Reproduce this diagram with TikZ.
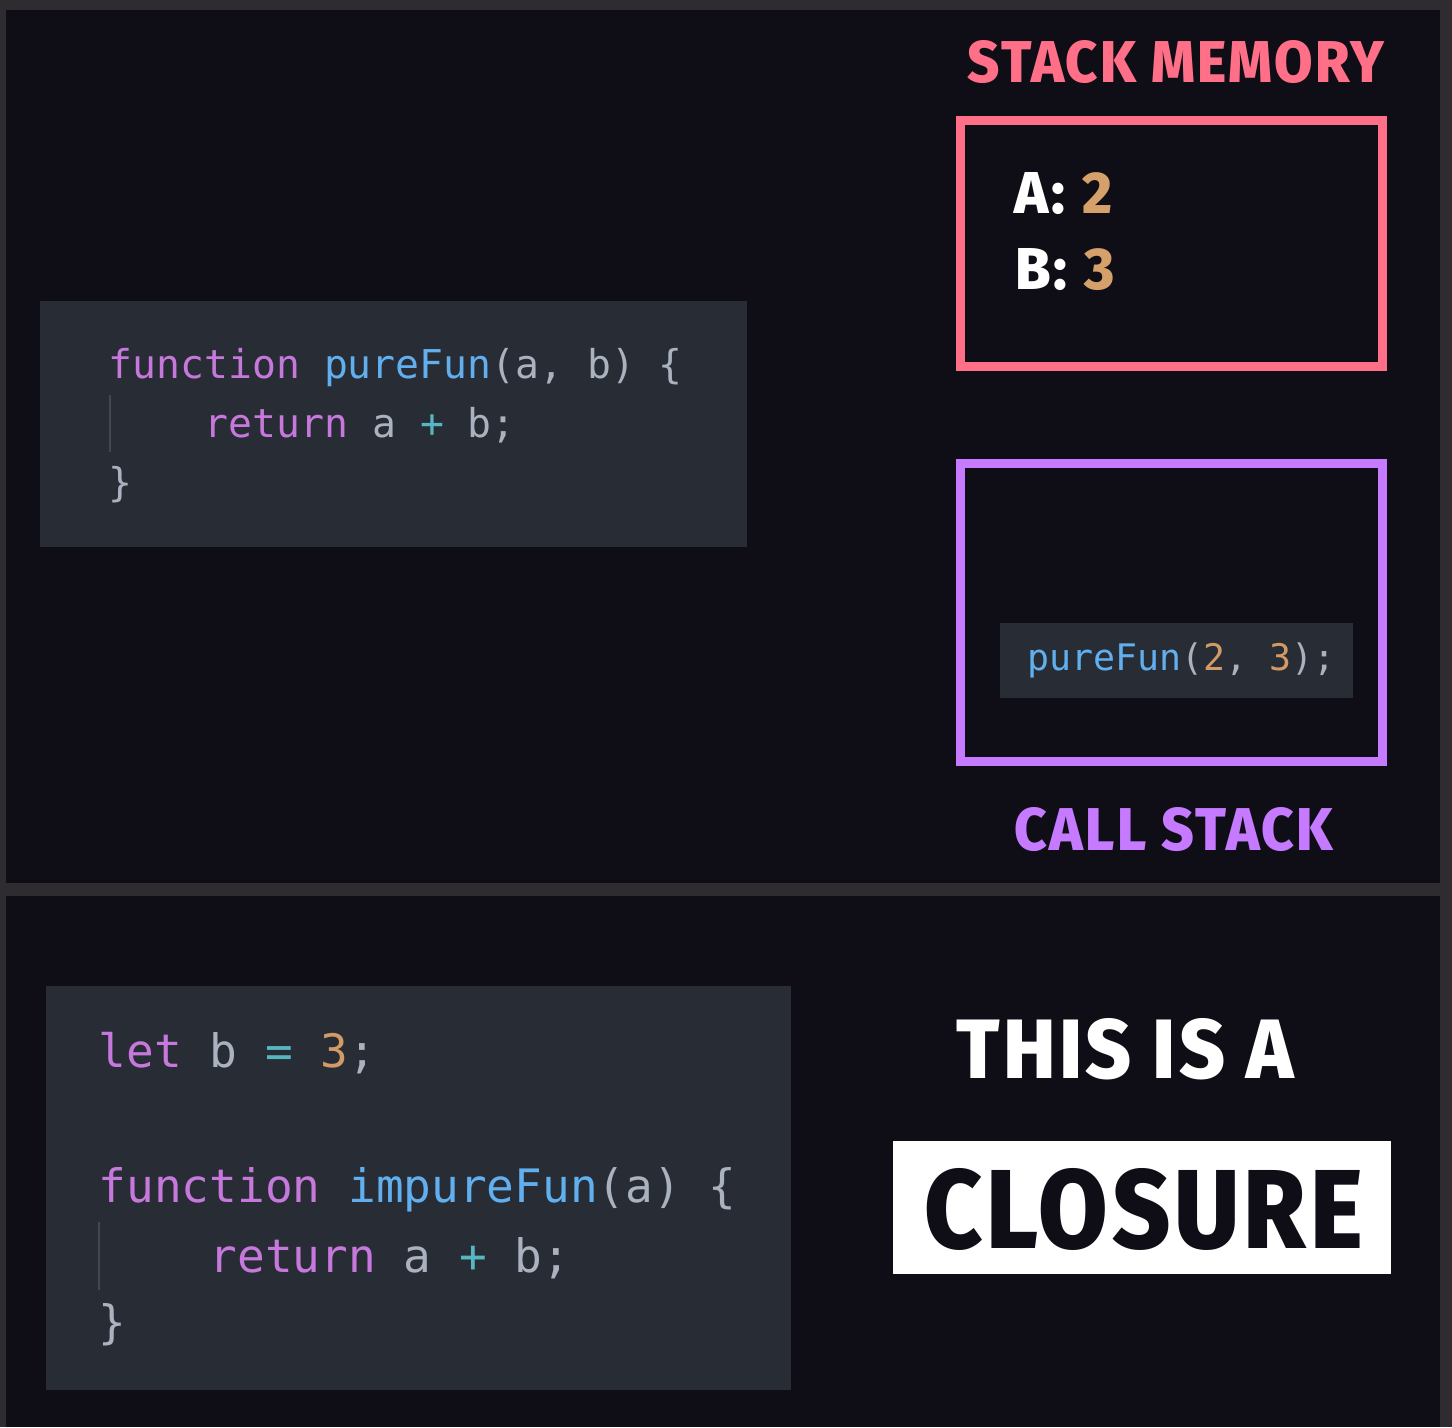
\documentclass[tikz,border=0pt]{standalone}
\usepackage{fontspec}
\usepackage{graphicx}
\setmonofont{DejaVu Sans Mono}
\newfontfamily\headfont{Fira Sans}[BoldFont={* ExtraBold}, LetterSpace=4]
\usetikzlibrary{calc}

\definecolor{frame}{RGB}{46,44,48}
\definecolor{bg}{RGB}{15,14,23}
\definecolor{codebg}{RGB}{40,44,52}
\definecolor{guide}{RGB}{66,71,82}
\definecolor{kw}{RGB}{198,120,221}
\definecolor{fn}{RGB}{97,175,239}
\definecolor{punct}{RGB}{171,178,191}
\definecolor{op}{RGB}{86,182,194}
\definecolor{num}{RGB}{209,154,102}
\definecolor{memcol}{RGB}{255,112,136}
\definecolor{callcol}{RGB}{197,122,255}
\definecolor{valcol}{RGB}{214,160,106}

\newcommand{\kw}[1]{\textcolor{kw}{#1}}
\newcommand{\fn}[1]{\textcolor{fn}{#1}}
\newcommand{\op}[1]{\textcolor{op}{#1}}
\newcommand{\num}[1]{\textcolor{num}{#1}}
\newcommand{\fitword}[3]{\resizebox{#1}{#2}{\headfont\bfseries #3}}

\tikzset{
    code/.style={anchor=base west, inner sep=0pt, font=\ttfamily, text=punct},
    title/.style={anchor=base west, inner sep=0pt},
    stackbox/.style={line width=2.56pt},
}

\begin{document}
\begin{tikzpicture}[x=0.01cm, y=-0.01cm]
        \useasboundingbox (0,0) rectangle (1452,1427);
        \fill[frame] (0,0) rectangle (1452,1427);
        \fill[bg] (6,10) rectangle (1440,883);
        \fill[bg] (6,896) rectangle (1440,1427);

        % top code block
        \fill[codebg] (40,301) rectangle (747,547);
        \draw[guide, line width=0.6pt] (110,395) -- (110,452);
        \node[code, font=\ttfamily\fontsize{11.3}{13}\selectfont] (pure1) at (108,378) {\kw{function} \fn{pureFun}(a, b) \{};
        \node[code, font=\ttfamily\fontsize{11.3}{13}\selectfont] (pure2) at (204,437) {\kw{return} a \op{+} b;};
        \node[code, font=\ttfamily\fontsize{11.3}{13}\selectfont] (pure3) at (108,496) {\}};

        % stack memory
        \node[title] (memtitle) at (967,82) {\fitword{4.16cm}{0.42cm}{\textcolor{memcol}{STACK MEMORY}}};
        \draw[stackbox, memcol] (960,120) rectangle (1382,366);
        \node[title] (vara) at (1014,213) {\fitword{0.98cm}{0.41cm}{\textcolor{white}{A:}\hspace{0.3em}\textcolor{valcol}{2}}};
        \node[title] (varb) at (1015,289) {\fitword{0.99cm}{0.41cm}{\textcolor{white}{B:}\hspace{0.3em}\textcolor{valcol}{3}}};

        % call stack
        \draw[stackbox, callcol] (960,463) rectangle (1382,761);
        \fill[codebg] (1000,623) rectangle (1353,698);
        \node[code, font=\ttfamily\fontsize{10.4}{12}\selectfont] (call) at (1027,670) {\fn{pureFun}(\num{2}, \num{3});};
        \node[title] (calltitle) at (1014,850) {\fitword{3.18cm}{0.43cm}{\textcolor{callcol}{CALL STACK}}};

        % bottom code block
        \fill[codebg] (46,986) rectangle (791,1390);
        \draw[guide, line width=0.6pt] (99,1222) -- (99,1290);
        \node[code, font=\ttfamily\fontsize{13.1}{15}\selectfont] (imp1) at (98,1067) {\kw{let} b \op{=} \num{3};};
        \node[code, font=\ttfamily\fontsize{13.1}{15}\selectfont] (imp2) at (98,1202) {\kw{function} \fn{impureFun}(a) \{};
        \node[code, font=\ttfamily\fontsize{13.1}{15}\selectfont] (imp3) at (209,1272) {\kw{return} a \op{+} b;};
        \node[code, font=\ttfamily\fontsize{13.1}{15}\selectfont] (imp4) at (98,1338) {\}};

        % closure
        \node[title] (thisis) at (956,1078) {\fitword{3.37cm}{0.60cm}{\textcolor{white}{THIS IS A}}};
        \fill[white] (893,1141) rectangle (1391,1274);
        \node[title] (closure) at (924,1248) {\fitword{4.38cm}{0.80cm}{\textcolor{bg}{CLOSURE}}};
    \end{tikzpicture}
\end{document}
